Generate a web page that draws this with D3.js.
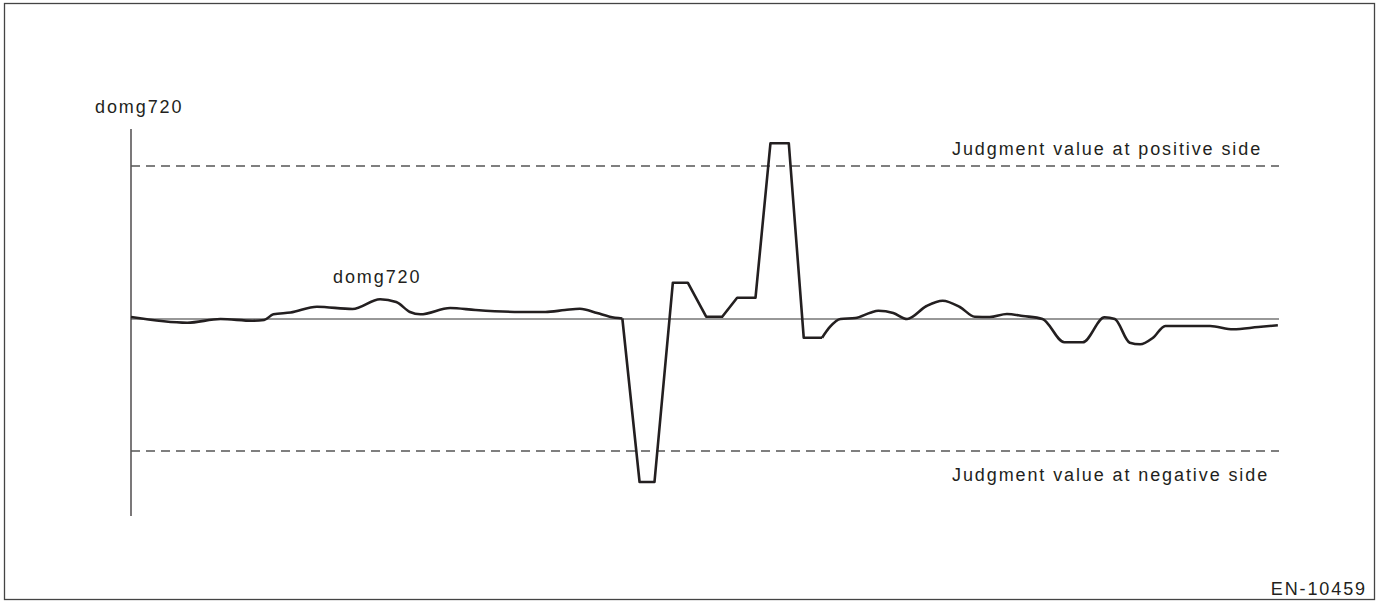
<!DOCTYPE html>
<html>
<head>
<meta charset="utf-8">
<script src="https://cdn.jsdelivr.net/npm/d3@7"></script>
<style>
  html, body { margin: 0; padding: 0; background: #fff; }
  svg { display: block; }
  text { font-family: "Liberation Sans", Arial, sans-serif; font-size: 18px; fill: #231f20; letter-spacing: 1.9px; }
</style>
</head>
<body>
<svg></svg>
<script>
// Window size
const width = 1378;
const height = 601;

// Signal before the misfire (smooth part)
const tCalmA = [0, 4.9, 7.8, 10.6, 11.6, 12.4, 13.9, 16.2, 19.3, 21.7, 23.1, 24.3, 25.2, 27.8, 30.0, 33.9, 36.1, 37.8, 39.1, 40.6, 41.7, 42.8];
const vCalmA = [0.2, -0.37, 0, -0.17, -0.1, 0.47, 0.65, 1.23, 1.0, 1.97, 1.7, 0.7, 0.47, 1.1, 0.9, 0.7, 0.7, 0.9, 1.03, 0.6, 0.23, 0.05];

// Misfire spikes (straight segments)
const tSpike = [42.8, 44.3, 45.6, 47.2, 48.5, 50.1, 51.5, 52.8, 54.4, 55.7, 57.3, 58.6, 60.2];
const vSpike = [0.05, -16.3, -16.3, 3.63, 3.63, 0.23, 0.23, 2.13, 2.13, 17.57, 17.57, -1.87, -1.87];

// Signal after the misfire (smooth part)
const tCalmB = [60.2, 60.9, 61.8, 63.1, 64.4, 65.1, 66.4, 67.6, 69.3, 70.7, 72.2, 73.5, 74.8, 76.3, 77.7, 79.4, 81.3, 82.9, 84.8, 85.7, 87.0, 87.9, 89.0, 90.1, 94.0, 96.0, 98.2, 99.9];
const vCalmB = [-1.87, -0.77, 0, 0.1, 0.63, 0.83, 0.6, 0, 1.3, 1.83, 1.2, 0.23, 0.2, 0.5, 0.3, 0, -2.33, -2.33, 0.17, 0, -2.37, -2.53, -1.9, -0.7, -0.7, -1.03, -0.8, -0.63];

// Judgment levels
const judgePos = 15.3;
const judgeNeg = -13.2;
const axisTop = 19;
const axisBottom = -19.7;

// Text labels
const axisLabel = "domg720";
const curveLabel = "domg720";
const posLabel = "Judgment value at positive side";
const negLabel = "Judgment value at negative side";
const figId = "EN-10459";

const svg = d3.select("svg")
    .attr("width", width)
    .attr("height", height);

svg.append("rect")
    .attr("width", width)
    .attr("height", height)
    .attr("fill", "#fff");

// Frame
svg.append("rect")
    .attr("x", 4.5)
    .attr("y", 3.5)
    .attr("width", 1370)
    .attr("height", 596)
    .attr("fill", "none")
    .attr("stroke", "#444")
    .attr("stroke-width", 1.3);

// Scales
const x = d3.scaleLinear().domain([0, 100]).range([131, 1279]);
const y = d3.scaleLinear().domain([-20, 20]).range([519, 119]);

// Vertical axis
svg.append("line")
    .attr("x1", x(0)).attr("x2", x(0))
    .attr("y1", y(axisTop)).attr("y2", y(axisBottom))
    .attr("stroke", "#231f20")
    .attr("stroke-width", 1.2);

// Zero line
svg.append("line")
    .attr("x1", x(0)).attr("x2", x(100))
    .attr("y1", y(0)).attr("y2", y(0))
    .attr("stroke", "#333")
    .attr("stroke-width", 1.1);

// Judgment lines (dashed)
[judgePos, judgeNeg].forEach(v => {
    svg.append("line")
        .attr("x1", x(0)).attr("x2", x(100))
        .attr("y1", y(v)).attr("y2", y(v))
        .attr("stroke", "#555")
        .attr("stroke-width", 1.5)
        .attr("stroke-dasharray", "9,6");
});

// Curve
const smooth = d3.line()
    .x(d => x(d[0]))
    .y(d => y(d[1]))
    .curve(d3.curveMonotoneX);

const straight = d3.line()
    .x(d => x(d[0]))
    .y(d => y(d[1]));

const pairs = (ts, vs) => ts.map((t, i) => [t, vs[i]]);

const curveGroup = svg.append("g")
    .attr("fill", "none")
    .attr("stroke", "#231f20")
    .attr("stroke-width", 2.6)
    .attr("stroke-linejoin", "round");

curveGroup.append("path").attr("d", smooth(pairs(tCalmA, vCalmA)));
curveGroup.append("path").attr("d", straight(pairs(tSpike, vSpike)));
curveGroup.append("path").attr("d", smooth(pairs(tCalmB, vCalmB)));

// Labels
svg.append("text").attr("x", 95).attr("y", 113).text(axisLabel);
svg.append("text").attr("x", 333).attr("y", 283).text(curveLabel);
svg.append("text").attr("x", 952).attr("y", 155).text(posLabel);
svg.append("text").attr("x", 952).attr("y", 481).text(negLabel);
svg.append("text")
    .attr("x", 1367)
    .attr("y", 595)
    .attr("text-anchor", "end")
    .text(figId);
</script>
</body>
</html>
